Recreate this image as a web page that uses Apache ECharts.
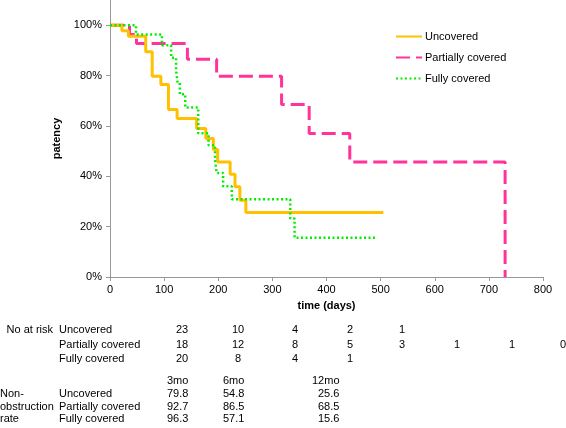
<!DOCTYPE html>
<html>
<head>
<meta charset="utf-8">
<script src="https://cdn.jsdelivr.net/npm/echarts@6/dist/echarts.min.js"></script>
<style>
html,body{margin:0;padding:0;background:#fff;}
#chart{width:566px;height:428px;}
</style>
</head>
<body>
<div id="chart"></div>
<script>
// ---- Data ----
const seriesNames = ['Uncovered', 'Partially covered', 'Fully covered'];
const uncoveredDays    = [0, 22, 34, 66, 78, 94, 108, 124, 160, 177, 191, 199, 222, 231, 240, 251, 505];
const uncoveredPatency = [100, 97.8, 95.6, 89.4, 79.7, 76.4, 66.5, 62.9, 59.0, 55.0, 50.6, 45.7, 40.8, 35.8, 30.5, 25.6, 25.6];
const partialDays      = [0, 36, 49, 143, 197, 317, 368, 443, 730];
const partialPatency   = [100, 96.3, 92.7, 86.5, 79.7, 68.5, 57.0, 45.7, 0];
const fullyDays        = [0, 48, 96, 113, 122, 125, 129, 139, 163, 182, 194, 197, 209, 225, 333, 341, 493];
const fullyPatency     = [100, 96.3, 92.0, 87.1, 82.1, 77.1, 72.6, 67.3, 57.1, 52.3, 46.4, 41.3, 36.0, 30.9, 23.2, 15.6, 15.6];

const xTickValues = [0, 100, 200, 300, 400, 500, 600, 700, 800];
const yTickValues = [0, 20, 40, 60, 80, 100];

const riskTitle = 'No at risk';
const riskUncovered = ['23', '10', '4', '2', '1'];
const riskPartial   = ['18', '12', '8', '5', '3', '1', '1', '0'];
const riskFully     = ['20', '8', '4', '1'];

const rateTitle = ['Non-', 'obstruction', 'rate'];
const rateHeaders = ['3mo', '6mo', '12mo'];
const rateUncovered = ['79.8', '54.8', '25.6'];
const ratePartial   = ['92.7', '86.5', '68.5'];
const rateFully     = ['96.3', '57.1', '15.6'];

// ---- Build ----
const FONT = 'Liberation Sans, Arial, Helvetica, sans-serif';
function pairs(xs, ys){ return xs.map((x,i)=>[x, ys[i]]); }

const chart = echarts.init(document.getElementById('chart'), null, {renderer:'canvas'});

const graphics = [];
function txt(s, x, y, align){
  graphics.push({type:'text', x:x, y:y, silent:true,
    style:{text:s, font:'11px ' + FONT, fill:'#000', align:align||'left', verticalAlign:'middle'}});
}
// No at risk table
const riskCols = [182, 238, 295, 350, 402, 457, 512, 563];
const riskRowsY = [330, 345, 359];
txt(riskTitle, 53, riskRowsY[0], 'right');
[riskUncovered, riskPartial, riskFully].forEach((row, r)=>{
  txt(seriesNames[r], 59, riskRowsY[r]);
  row.forEach((v,c)=> txt(v, riskCols[c], riskRowsY[r], 'center'));
});
// Non-obstruction rate table
const rateHeadX = [167, 223, 312];
const rateValX  = [167, 223, 318];
const rateRowsY = [393.5, 406.5, 419];
rateHeaders.forEach((h,c)=> txt(h, rateHeadX[c], 381));
rateTitle.forEach((t,r)=> txt(t, 0, rateRowsY[r]));
[rateUncovered, ratePartial, rateFully].forEach((row, r)=>{
  txt(seriesNames[r], 59, rateRowsY[r]);
  row.forEach((v,c)=> txt(v, rateValX[c], rateRowsY[r]));
});

const option = {
  animation:false,
  backgroundColor:'#fff',
  grid:{left:110, right:23, top:0, bottom:151, containLabel:false},
  legend:{
    orient:'vertical', left:390, top:26,
    itemWidth:26, itemHeight:11, itemGap:10,
    itemStyle:{opacity:0},
    textStyle:{fontSize:11, color:'#000', fontFamily:FONT, padding:[0,0,0,-2]},
    data:seriesNames
  },
  xAxis:{
    type:'value', min:0, max:800, interval:100,
    name:'time (days)', nameLocation:'middle', nameGap:23,
    nameTextStyle:{fontSize:11, fontWeight:'bold', color:'#000', fontFamily:FONT},
    axisLine:{show:true, lineStyle:{color:'#999', width:1}},
    axisTick:{show:true, length:4, lineStyle:{color:'#999'}},
    axisLabel:{fontSize:11, color:'#000', fontFamily:FONT, margin:7,
      formatter:v=> xTickValues.includes(v) ? String(v) : ''},
    splitLine:{show:false}
  },
  yAxis:{
    type:'value', min:0, max:110, interval:20,
    name:'patency', nameLocation:'middle', nameGap:41,
    nameTextStyle:{fontSize:11, fontWeight:'bold', color:'#000', fontFamily:FONT},
    axisLine:{show:true, lineStyle:{color:'#999', width:1}},
    axisTick:{show:true, length:4, lineStyle:{color:'#999'},
      customValues: yTickValues},
    axisLabel:{fontSize:11, color:'#000', fontFamily:FONT, margin:8,
      customValues: yTickValues,
      formatter:v=> yTickValues.includes(v) ? v + '%' : ''},
    splitLine:{show:false}
  },
  series:[
    {name:seriesNames[0], type:'line', step:'end', symbol:'none', data:pairs(uncoveredDays, uncoveredPatency),
      lineStyle:{color:'#FFC000', width:3, type:'solid'}, itemStyle:{color:'#FFC000'}, z:3},
    {name:seriesNames[1], type:'line', step:'end', symbol:'none', data:pairs(partialDays, partialPatency),
      lineStyle:{color:'#FF3399', width:3, type:[14,6]}, itemStyle:{color:'#FF3399'}, z:2},
    {name:seriesNames[2], type:'line', step:'end', symbol:'none', data:pairs(fullyDays, fullyPatency),
      lineStyle:{color:'#00EE00', width:2.5, type:[2,2.5]}, itemStyle:{color:'#00EE00'}, z:4}
  ],
  graphic:graphics
};
chart.setOption(option);
</script>
</body>
</html>
